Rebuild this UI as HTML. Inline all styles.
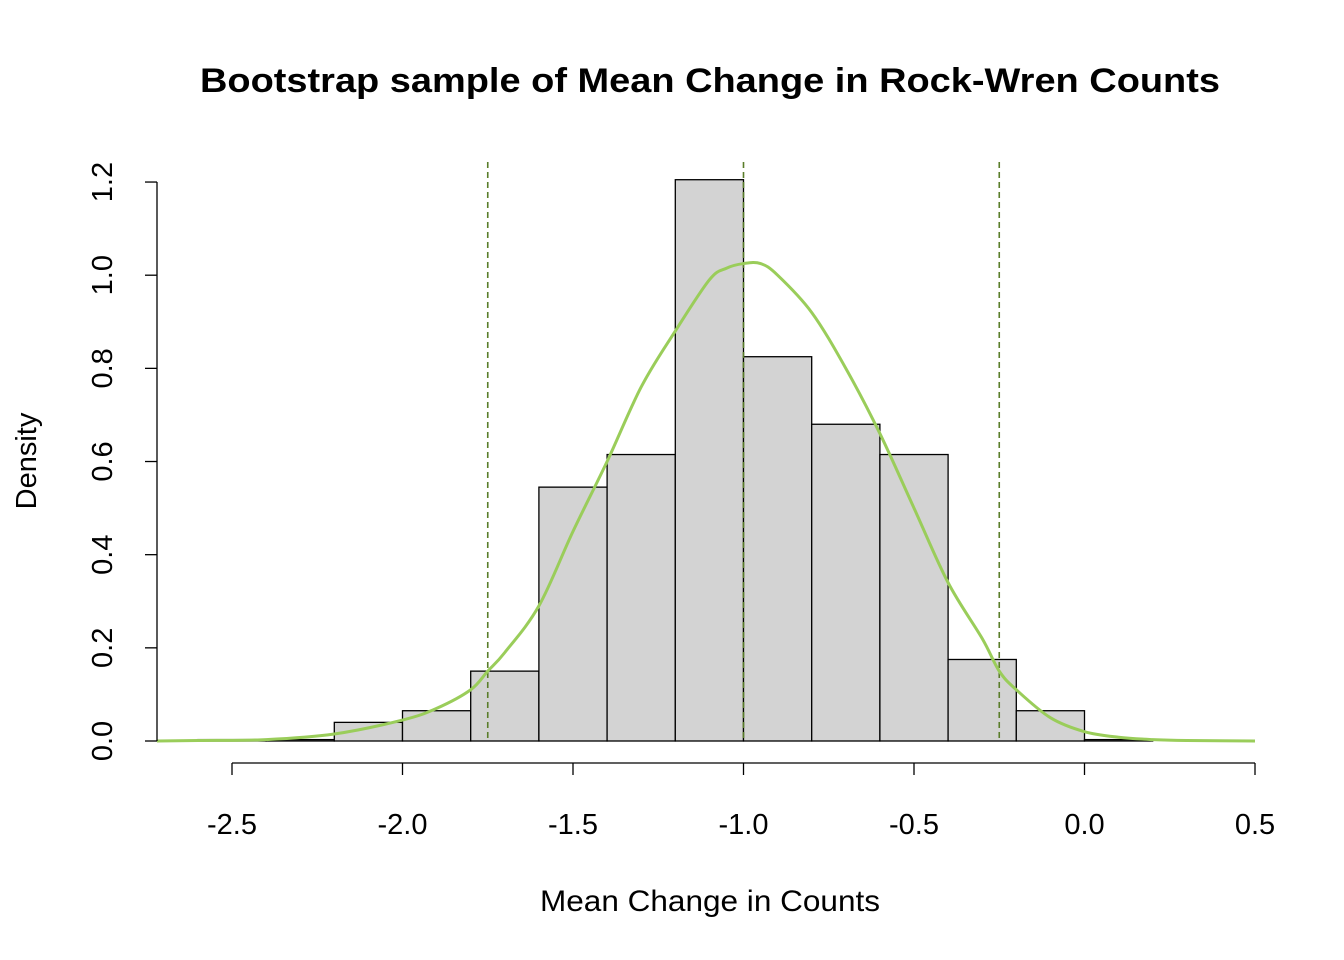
<!DOCTYPE html>
<html><head><meta charset="utf-8"><style>body{margin:0;background:#fff}svg{display:block}text{font-family:"Liberation Sans",Arial,sans-serif}</style></head>
<body>
<svg id="chart" width="1344" height="960" viewBox="0 0 1344 960">
<text x="710" y="92" text-anchor="middle" font-size="34" font-weight="bold" textLength="1020" lengthAdjust="spacingAndGlyphs">Bootstrap sample of Mean Change in Rock-Wren Counts</text>
<text x="710" y="911" text-anchor="middle" font-size="30" textLength="340" lengthAdjust="spacingAndGlyphs">Mean Change in Counts</text>
<text transform="translate(36,461) rotate(-90)" text-anchor="middle" font-size="29">Density</text>
<g id="bars"></g><g id="vlines"></g><g id="curve"></g><g id="xaxis"></g><g id="yaxis"></g>
</svg>
<script>
const binStarts=[-2.6,-2.4,-2.2,-2.0,-1.8,-1.6,-1.4,-1.2,-1.0,-0.8,-0.6,-0.4,-0.2,0.0];
const binHeights=[0.003,0.003,0.04,0.065,0.15,0.545,0.615,1.205,0.825,0.68,0.615,0.175,0.065,0.003];
const binWidth=0.2;
const densX=[-2.72,-2.6,-2.4,-2.2,-2.0,-1.9,-1.8,-1.75,-1.7,-1.6,-1.5,-1.4,-1.3,-1.2,-1.1,-1.05,-1.0,-0.95,-0.9,-0.8,-0.7,-0.6,-0.5,-0.4,-0.3,-0.25,-0.2,-0.1,0.0,0.1,0.2,0.3,0.5];
const densY=[0.0,0.001,0.003,0.015,0.045,0.07,0.11,0.15,0.19,0.29,0.45,0.6,0.76,0.88,0.99,1.015,1.025,1.025,1.0,0.92,0.8,0.66,0.5,0.34,0.22,0.15,0.11,0.05,0.02,0.008,0.003,0.001,0.0];
const refLines=[-1.75,-1.0,-0.25];
const xTicks=[-2.5,-2.0,-1.5,-1.0,-0.5,0.0,0.5];
const xTickLabels=["-2.5","-2.0","-1.5","-1.0","-0.5","0.0","0.5"];
const yTicks=[0,0.2,0.4,0.6,0.8,1.0,1.2];
const yTickLabels=["0.0","0.2","0.4","0.6","0.8","1.0","1.2"];
const NS="http://www.w3.org/2000/svg";
const X=v=>232+(v+2.5)*341;
const Y=v=>741-v*465.8;
function mk(tag,attrs,parent){const e=document.createElementNS(NS,tag);for(const k in attrs)e.setAttribute(k,attrs[k]);document.getElementById(parent).appendChild(e);return e;}
binStarts.forEach((s,i)=>{const r=mk('rect',{x:X(s),y:Y(binHeights[i]),width:X(s+binWidth)-X(s),height:Y(0)-Y(binHeights[i]),fill:'#d3d3d3',stroke:'#000','stroke-width':1.3},'bars');

});
refLines.forEach(v=>{const l=mk('line',{x1:X(v),x2:X(v),y1:162,y2:741,stroke:'#5a7d2a','stroke-width':1.6,'stroke-dasharray':'6,4'},'vlines');

});
const pts=densX.map((x,i)=>[X(x),Y(densY[i])]);
let d='M'+pts[0][0]+','+pts[0][1];
for(let i=0;i<pts.length-1;i++){const p0=pts[Math.max(i-1,0)],p1=pts[i],p2=pts[i+1],p3=pts[Math.min(i+2,pts.length-1)];
d+=` C${p1[0]+(p2[0]-p0[0])/6},${p1[1]+(p2[1]-p0[1])/6} ${p2[0]-(p3[0]-p1[0])/6},${p2[1]-(p3[1]-p1[1])/6} ${p2[0]},${p2[1]}`;}
const p=mk('path',{d:d,fill:'none',stroke:'#9acd5a','stroke-width':3},'curve');


mk('line',{x1:X(-2.5),x2:X(0.5),y1:763,y2:763,stroke:'#000','stroke-width':1.3},'xaxis');
xTicks.forEach((t,i)=>{mk('line',{x1:X(t),x2:X(t),y1:763,y2:775,stroke:'#000','stroke-width':1.3},'xaxis');
const tx=mk('text',{x:X(t),y:834,'text-anchor':'middle','font-size':29},'xaxis');tx.textContent=xTickLabels[i];

});
mk('line',{x1:157,x2:157,y1:Y(0),y2:Y(1.2),stroke:'#000','stroke-width':1.3},'yaxis');
yTicks.forEach((t,i)=>{mk('line',{x1:145,x2:157,y1:Y(t),y2:Y(t),stroke:'#000','stroke-width':1.3},'yaxis');
const tx=mk('text',{transform:`translate(112,${Y(t)}) rotate(-90)`,'text-anchor':'middle','font-size':29},'yaxis');tx.textContent=yTickLabels[i];

});
</script>
</body></html>
